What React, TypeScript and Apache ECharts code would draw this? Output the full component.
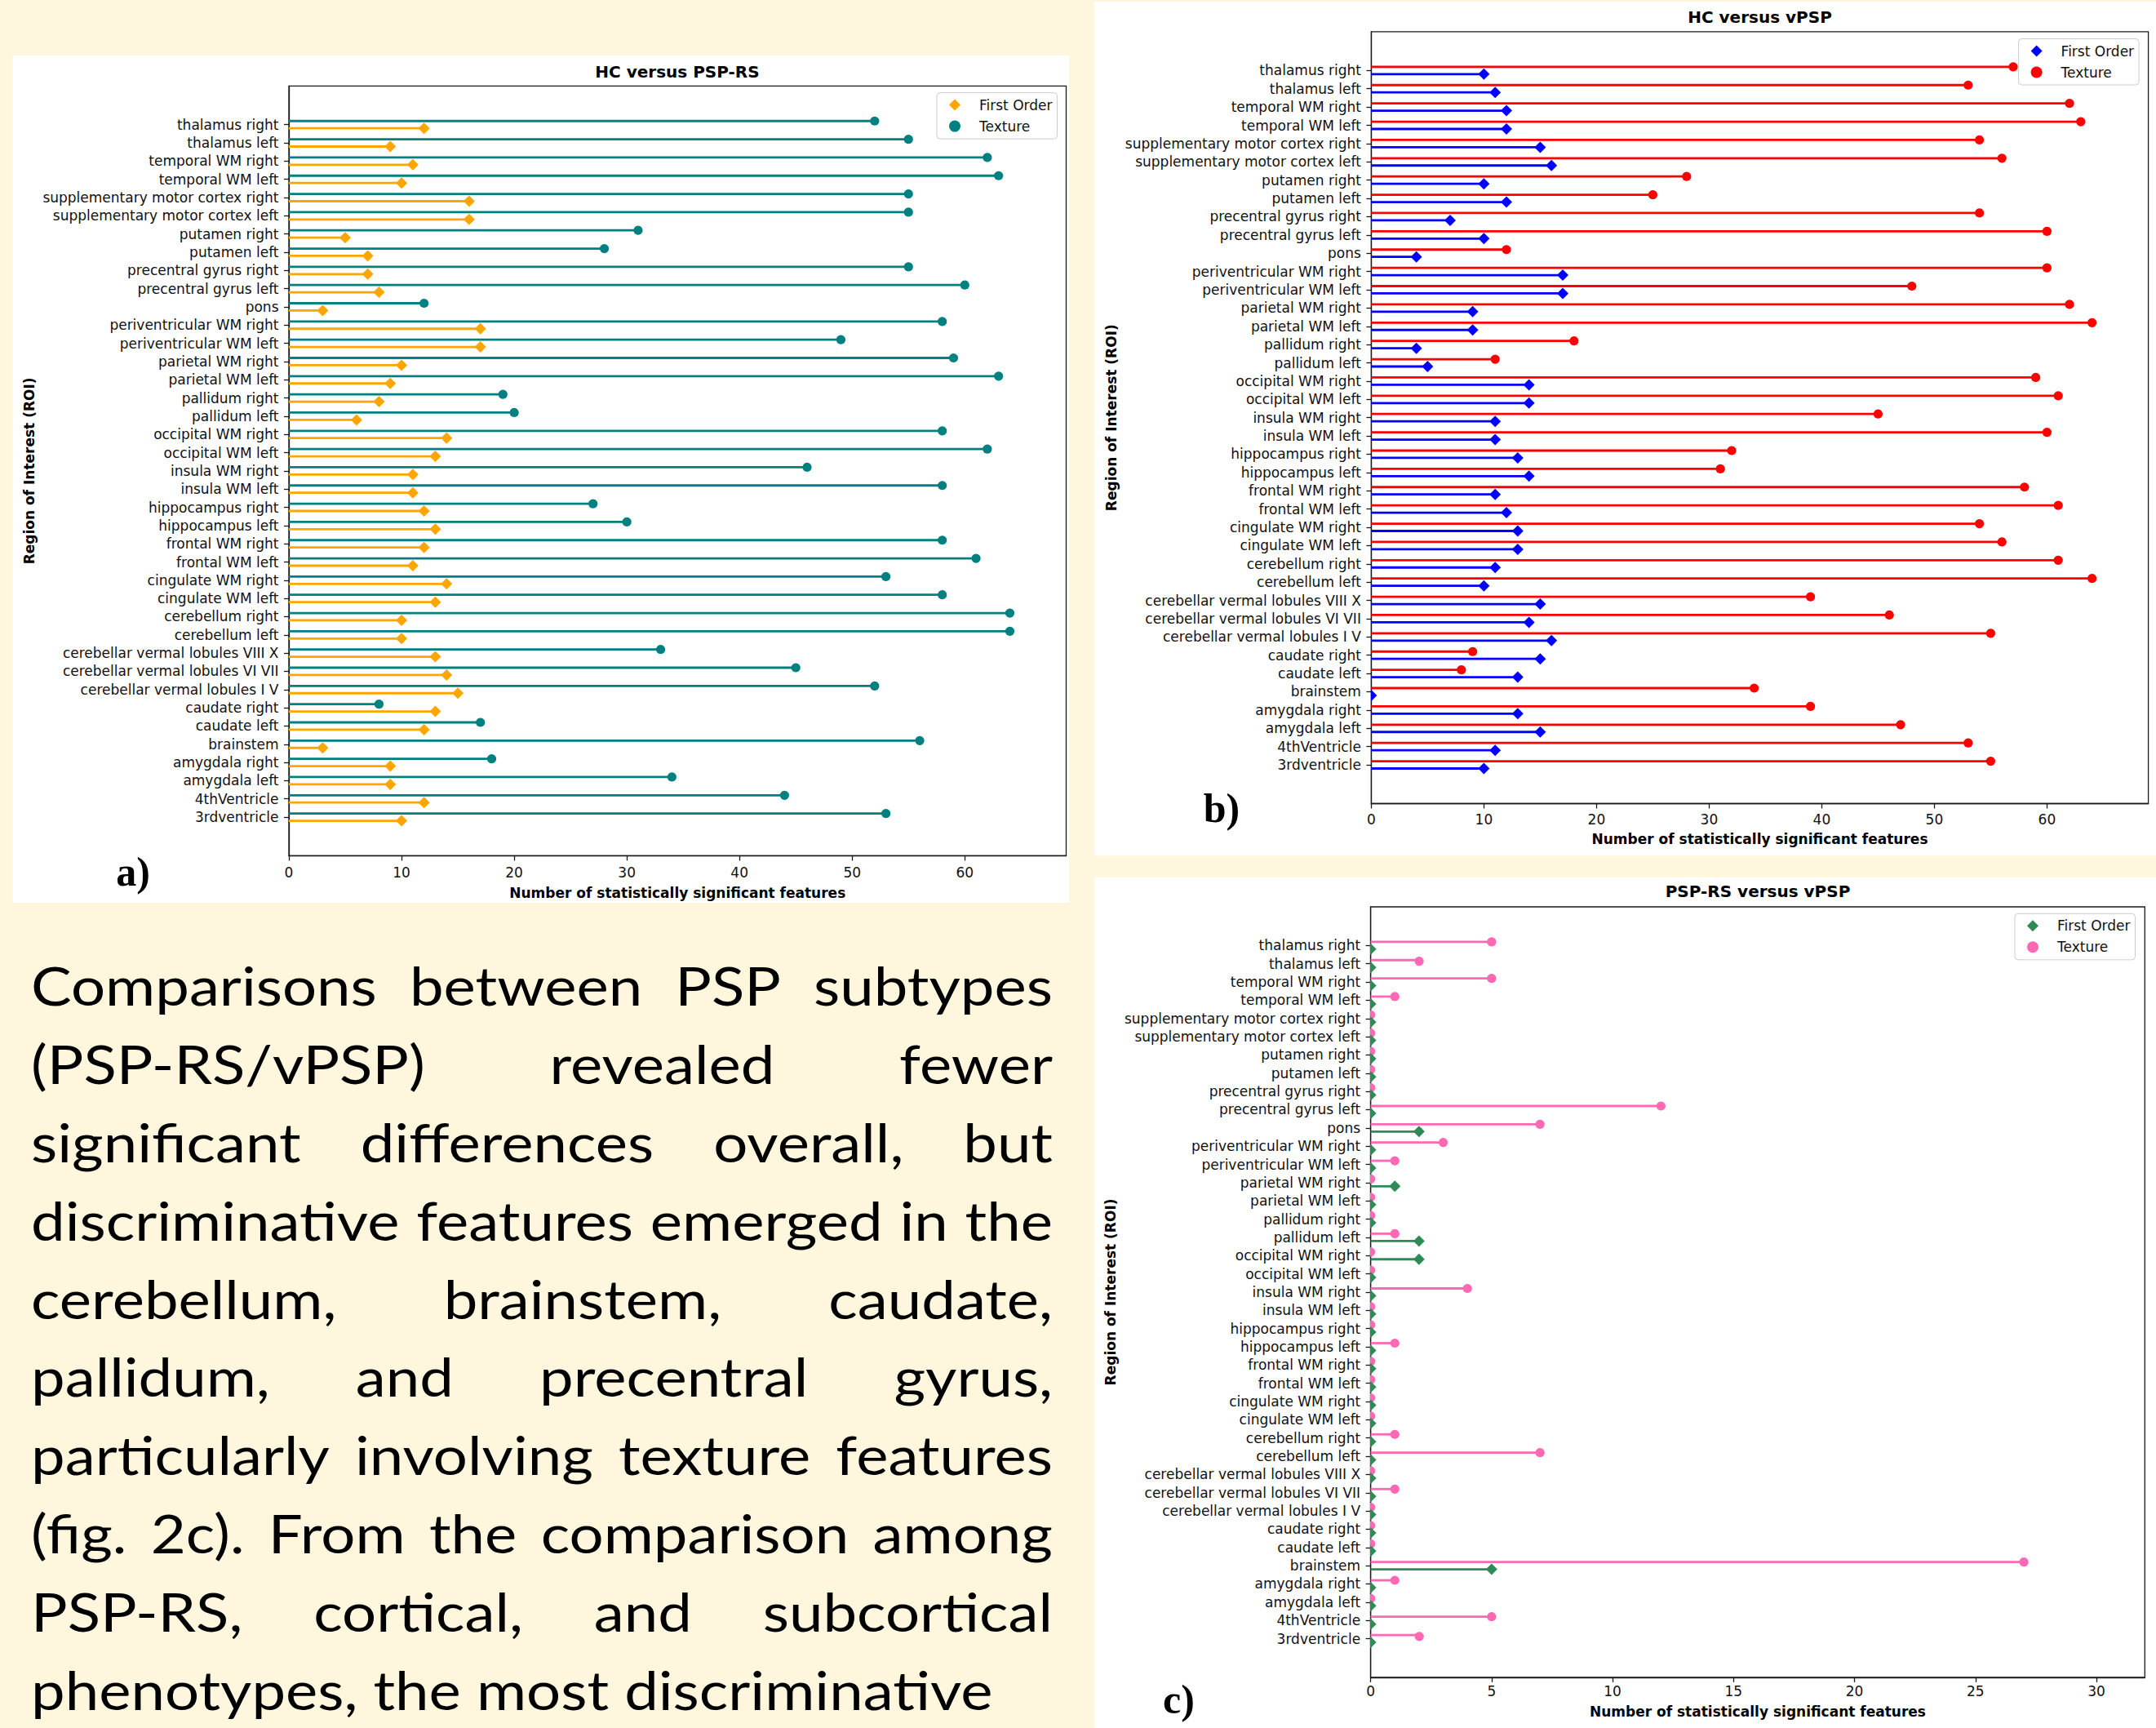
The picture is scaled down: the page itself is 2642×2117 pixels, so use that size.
import React, { useEffect, useRef } from 'react';
import * as echarts from 'echarts';

const PAGE_W = 2642;
const PAGE_H = 2117;

// ---------- data ----------
const regions = [
  'thalamus right', 'thalamus left', 'temporal WM right', 'temporal WM left',
  'supplementary motor cortex right', 'supplementary motor cortex left',
  'putamen right', 'putamen left', 'precentral gyrus right', 'precentral gyrus left',
  'pons', 'periventricular WM right', 'periventricular WM left',
  'parietal WM right', 'parietal WM left', 'pallidum right', 'pallidum left',
  'occipital WM right', 'occipital WM left', 'insula WM right', 'insula WM left',
  'hippocampus right', 'hippocampus left', 'frontal WM right', 'frontal WM left',
  'cingulate WM right', 'cingulate WM left', 'cerebellum right', 'cerebellum left',
  'cerebellar vermal lobules VIII X', 'cerebellar vermal lobules VI VII',
  'cerebellar vermal lobules I V', 'caudate right', 'caudate left', 'brainstem',
  'amygdala right', 'amygdala left', '4thVentricle', '3rdventricle',
];

// a) HC versus PSP-RS
const aFirstOrder = [12, 9, 11, 10, 16, 16, 5, 7, 7, 8, 3, 17, 17, 10, 9, 8, 6, 14, 13, 11, 11, 12, 13, 12, 11, 14, 13, 10, 10, 13, 14, 15, 13, 12, 3, 9, 9, 12, 10];
const aTexture = [52, 55, 62, 63, 55, 55, 31, 28, 55, 60, 12, 58, 49, 59, 63, 19, 20, 58, 62, 46, 58, 27, 30, 58, 61, 53, 58, 64, 64, 33, 45, 52, 8, 17, 56, 18, 34, 44, 53];

// b) HC versus vPSP
const bFirstOrder = [10, 11, 12, 12, 15, 16, 10, 12, 7, 10, 4, 17, 17, 9, 9, 4, 5, 14, 14, 11, 11, 13, 14, 11, 12, 13, 13, 11, 10, 15, 14, 16, 15, 13, 0, 13, 15, 11, 10];
const bTexture = [57, 53, 62, 63, 54, 56, 28, 25, 54, 60, 12, 60, 48, 62, 64, 18, 11, 59, 61, 45, 60, 32, 31, 58, 61, 54, 56, 61, 64, 39, 46, 55, 9, 8, 34, 39, 47, 53, 55];

// c) PSP-RS versus vPSP
const cFirstOrder = [0, 0, 0, 0, 0, 0, 0, 0, 0, 0, 2, 0, 0, 1, 0, 0, 2, 2, 0, 0, 0, 0, 0, 0, 0, 0, 0, 0, 0, 0, 0, 0, 0, 0, 5, 0, 0, 0, 0];
const cTexture = [5, 2, 5, 1, 0, 0, 0, 0, 0, 12, 7, 3, 1, 0, 0, 0, 1, 0, 0, 4, 0, 0, 1, 0, 0, 0, 0, 1, 7, 0, 1, 0, 0, 0, 27, 1, 0, 5, 2];

const xTicksAB = [0, 10, 20, 30, 40, 50, 60];
const xTicksC = [0, 5, 10, 15, 20, 25, 30];

const X_NAME = 'Number of statistically significant features';
const Y_NAME = 'Region of Interest (ROI)';

const paragraphLines = [
  'Comparisons between PSP subtypes',
  '(PSP-RS/vPSP) revealed fewer',
  'significant differences overall, but',
  'discriminative features emerged in the',
  'cerebellum, brainstem, caudate,',
  'pallidum, and precentral gyrus,',
  'particularly involving texture features',
  '(fig. 2c). From the comparison among',
  'PSP-RS, cortical, and subcortical',
  'phenotypes, the most discriminative',
];

// ---------- layout / style ----------
const BEIGE = '#FFF6DE';
const FONT = 'DejaVu Sans';
const Y_OFF = 0.2;
const DIAMOND_H = 7;
const CIRCLE_R = 5.6;
const STEM_W = 2.8;

const panels = [
  {
    key: 'a', title: 'HC versus PSP-RS', first: aFirstOrder, tex: aTexture,
    firstColor: '#FFA500', texColor: '#008080', xMax: 69, xStep: 10, xTicks: xTicksAB,
    grid: { left: 354, top: 105.4, width: 952.5, height: 943 },
    titlePos: [830, 88], legendPos: [1148, 113.6], labelMargin: 12.5, nameGap: 37,
    panel: [15.6, 68, 1294.4, 1038], tag: 'a)', tagPos: [163, 1068],
  },
  {
    key: 'b', title: 'HC versus vPSP', first: bFirstOrder, tex: bTexture,
    firstColor: '#0000FF', texColor: '#FF0000', xMax: 69, xStep: 10, xTicks: xTicksAB,
    grid: { left: 1680.4, top: 38.9, width: 952.2, height: 945.6 },
    titlePos: [2156.5, 21.3], legendPos: [2473.6, 47.5], labelMargin: 11, nameGap: 35,
    panel: [1341, 2, 1301, 1046.6], tag: 'b)', tagPos: [1497, 990],
  },
  {
    key: 'c', title: 'PSP-RS versus vPSP', first: cFirstOrder, tex: cTexture,
    firstColor: '#2E8B57', texColor: '#FF69B4', xMax: 32, xStep: 5, xTicks: xTicksC,
    grid: { left: 1679.6, top: 1111, width: 948.7, height: 943.9 },
    titlePos: [2154, 1092.4], legendPos: [2469, 1119.3], labelMargin: 9, nameGap: 34,
    panel: [1341, 1075, 1301, 1042], tag: 'c)', tagPos: [1444.5, 2082],
  },
];

const PARA = { left: 38, right: 1290, firstBaseline: 1232, lineStep: 95.9, fontSize: 65, lastLineEnd: 1216.6, family: 'Lato' };

function makeSeries(key: string, kind: string, values: number[], color: string, gridIndex: number, offset: number, shape: string) {
  return {
    type: 'custom',
    name: `${key}|${kind}`,
    coordinateSystem: 'cartesian2d',
    xAxisIndex: gridIndex,
    yAxisIndex: gridIndex,
    clip: true,
    itemStyle: { color },
    encode: { x: 0, y: 1 },
    data: values.map((v, i) => [v, i + offset]),
    renderItem: (params: any, api: any) => {
      const v = api.value(0);
      const y = api.value(1);
      const p0 = api.coord([0, y]);
      const p1 = api.coord([v, y]);
      const marker = shape === 'diamond'
        ? {
          type: 'polygon',
          shape: { points: [[p1[0], p1[1] - DIAMOND_H], [p1[0] + DIAMOND_H, p1[1]], [p1[0], p1[1] + DIAMOND_H], [p1[0] - DIAMOND_H, p1[1]]] },
          style: { fill: color },
        }
        : { type: 'circle', shape: { cx: p1[0], cy: p1[1], r: CIRCLE_R }, style: { fill: color } };
      return {
        type: 'group',
        children: [
          { type: 'line', shape: { x1: p0[0], y1: p0[1], x2: p1[0], y2: p1[1] }, style: { stroke: color, lineWidth: STEM_W } },
          marker,
        ],
      };
    },
  };
}

function paragraphElements() {
  const canvas = document.createElement('canvas');
  const ctx = canvas.getContext('2d') as CanvasRenderingContext2D;
  const font = `${PARA.fontSize}px ${PARA.family}`;
  ctx.font = font;
  const mw = (t: string) => ctx.measureText(t).width;
  const space = mw(' ');
  const natural = (line: string) => mw(line);
  const avail = PARA.right - PARA.left;
  const last = paragraphLines[paragraphLines.length - 1];
  let s = (PARA.lastLineEnd - PARA.left) / natural(last);
  paragraphLines.forEach((l) => {
    const n = natural(l);
    if (n * s > avail) s = avail / n;
  });
  const els: any[] = [];
  paragraphLines.forEach((line, li) => {
    const words = line.split(' ');
    const widths = words.map((w) => mw(w) * s);
    const total = widths.reduce((a, b) => a + b, 0);
    const isLast = li === paragraphLines.length - 1;
    const gap = isLast || words.length < 2 ? space * s : (avail - total) / (words.length - 1);
    const yMid = PARA.firstBaseline + li * PARA.lineStep - 0.387 * PARA.fontSize;
    let x = PARA.left;
    words.forEach((w, wi) => {
      els.push({
        type: 'text', x, y: yMid, scaleX: s, z: 10, silent: true,
        style: { text: w, font, fill: '#000', align: 'left', verticalAlign: 'middle', textAlign: 'left', textVerticalAlign: 'middle' },
      });
      x += widths[wi] + gap;
    });
  });
  return els;
}

function buildOption() {
  const yIdx = regions.map((_, i) => i);
  const yMin = -2.12;
  const yMax = regions.length - 1 + 2.12;
  const series: any[] = [];
  panels.forEach((p, gi) => {
    series.push(makeSeries(p.key, 'Texture', p.tex, p.texColor, gi, -Y_OFF, 'circle'));
    series.push(makeSeries(p.key, 'First Order', p.first, p.firstColor, gi, Y_OFF, 'diamond'));
  });

  const graphicEls: any[] = [];
  panels.forEach((p) => {
    graphicEls.push({
      type: 'rect', z: -100, silent: true,
      shape: { x: p.panel[0], y: p.panel[1], width: p.panel[2], height: p.panel[3] },
      style: { fill: '#FFFFFF' },
    });
    graphicEls.push({
      type: 'text', x: p.titlePos[0], y: p.titlePos[1], z: 10, silent: true,
      style: { text: p.title, font: `bold 20px "${FONT}"`, fill: '#000', align: 'center', verticalAlign: 'middle', textAlign: 'center', textVerticalAlign: 'middle' },
    });
    graphicEls.push({
      type: 'text', x: p.tagPos[0], y: p.tagPos[1], z: 10, silent: true,
      style: { text: p.tag, font: 'bold 50px "Liberation Serif"', fill: '#000', align: 'center', verticalAlign: 'middle', textAlign: 'center', textVerticalAlign: 'middle' },
    });
  });
  graphicEls.push(...paragraphElements());

  return {
    animation: false,
    backgroundColor: BEIGE,
    textStyle: { fontFamily: FONT },
    grid: panels.map((p) => ({
      left: p.grid.left, top: p.grid.top, width: p.grid.width, height: p.grid.height,
      show: true, backgroundColor: '#FFFFFF', borderColor: '#1a1a1a', borderWidth: 1.3, containLabel: false,
    })),
    xAxis: panels.map((p, gi) => ({
      type: 'value', gridIndex: gi, min: 0, max: p.xMax,
      name: X_NAME, nameLocation: 'middle', nameGap: p.nameGap,
      nameTextStyle: { fontWeight: 'bold', fontSize: 17, color: '#000', fontFamily: FONT },
      axisLine: { show: true, onZero: false, lineStyle: { color: '#1a1a1a', width: 1.3 } },
      axisTick: { show: true, inside: false, length: 6, customValues: p.xTicks, lineStyle: { color: '#1a1a1a', width: 1.3 } },
      axisLabel: { show: true, fontSize: 17, color: '#111', margin: p.labelMargin, customValues: p.xTicks, fontFamily: FONT },
      splitLine: { show: false },
    })),
    yAxis: panels.map((p, gi) => ({
      type: 'value', gridIndex: gi, inverse: true, min: yMin, max: yMax,
      name: Y_NAME, nameLocation: 'middle', nameRotate: 90, nameGap: 310,
      nameTextStyle: { fontWeight: 'bold', fontSize: 17, color: '#000', fontFamily: FONT },
      axisLine: { show: true, onZero: false, lineStyle: { color: '#1a1a1a', width: 1.3 } },
      axisTick: { show: true, inside: false, length: 6, customValues: yIdx, lineStyle: { color: '#1a1a1a', width: 1.3 } },
      axisLabel: {
        show: true, fontSize: 17, color: '#111', margin: 12.5, customValues: yIdx, fontFamily: FONT,
        formatter: (v: number) => regions[Math.round(v)] ?? '',
      },
      splitLine: { show: false },
    })),
    legend: panels.map((p) => ({
      orient: 'vertical', left: p.legendPos[0], top: p.legendPos[1],
      padding: [6.5, 6, 7, 15], itemGap: 9, itemWidth: 14, itemHeight: 14,
      backgroundColor: 'rgba(255,255,255,0.85)', borderColor: '#cccccc', borderWidth: 1, borderRadius: 4,
      selectedMode: false,
      textStyle: { fontSize: 17, color: '#111', fontFamily: FONT, padding: [0, 0, 0, 18] },
      itemStyle: { borderWidth: 0 },
      data: [
        { name: `${p.key}|First Order`, icon: 'diamond' },
        { name: `${p.key}|Texture`, icon: 'circle' },
      ],
      formatter: (n: string) => n.split('|')[1],
    })),
    series,
    graphic: { elements: graphicEls },
  };
}

export default function App() {
  const ref = useRef<HTMLDivElement>(null);
  useEffect(() => {
    if (!ref.current) return;
    const chart = echarts.init(ref.current, undefined, { renderer: 'svg', width: PAGE_W, height: PAGE_H });
    chart.setOption(buildOption() as any);
    return () => chart.dispose();
  }, []);
  return (
    <div
      ref={ref}
      style={{ position: 'absolute', left: 0, top: 0, width: PAGE_W, height: PAGE_H, background: BEIGE }}
    />
  );
}
